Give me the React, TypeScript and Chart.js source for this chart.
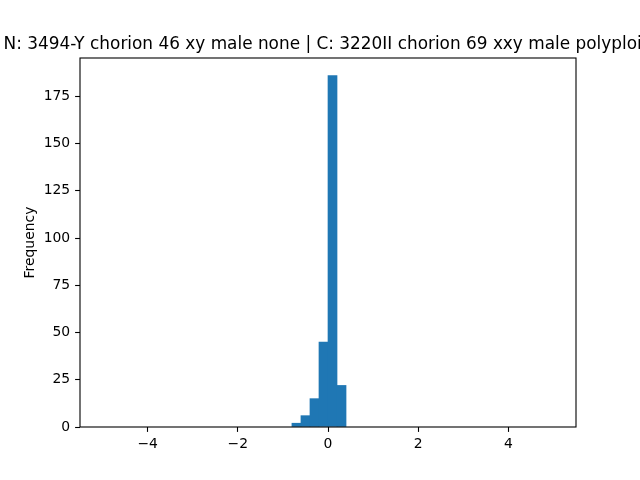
import React, { useEffect, useRef } from "react";
import { Chart, registerables } from "chart.js";

Chart.register(...registerables);

const TITLE = "N: 3494-Y chorion 46 xy male none | C: 3220II chorion 69 xxy male polyploid";
const Y_LABEL = "Frequency";
const BIN_CENTERS = [-0.7, -0.5, -0.3, -0.1, 0.1, 0.3];
const COUNTS = [2, 6, 15, 45, 186, 22];
const X_TICKS = [-4, -2, 0, 2, 4];
const Y_TICKS = [0, 25, 50, 75, 100, 125, 150, 175];
const X_MIN = -5.5;
const X_MAX = 5.5;
const Y_MAX = 195.3;

const FONT = "'DejaVu Sans', sans-serif";

const decorPlugin = {
  id: "decor",
  afterDraw(chart: any) {
    const { ctx, chartArea } = chart;
    const { left, right, top, bottom } = chartArea;
    ctx.save();
    ctx.strokeStyle = "#000";
    ctx.lineWidth = 1.1;
    ctx.strokeRect(left, top, right - left, bottom - top);
    ctx.fillStyle = "#000";
    ctx.font = `16.9px ${FONT}`;
    ctx.textAlign = "center";
    ctx.textBaseline = "alphabetic";
    ctx.fillText(TITLE, (left + right) / 2, top - 8.8);
    ctx.translate(34, (top + bottom) / 2);
    ctx.rotate(-Math.PI / 2);
    ctx.font = `13.9px ${FONT}`;
    ctx.fillText(Y_LABEL, 0, 0);
    ctx.restore();
  },
};

const fmt = (v: number) => (v < 0 ? "\u2212" + Math.abs(v) : String(v));

export default function App() {
  const ref = useRef<HTMLCanvasElement>(null);
  useEffect(() => {
    if (!ref.current) return;
    const chart = new Chart(ref.current, {
      type: "bar",
      data: {
        datasets: [
          {
            data: BIN_CENTERS.map((x, i) => ({ x, y: COUNTS[i] })),
            backgroundColor: "#1f77b4",
            borderWidth: 0,
            barPercentage: 1,
            categoryPercentage: 1,
          },
        ],
      },
      options: {
        animation: false,
        responsive: false,
        devicePixelRatio: 1,
        layout: { padding: { top: 58, right: 64, left: 0, bottom: 0 } },
        plugins: { legend: { display: false }, tooltip: { enabled: false }, title: { display: false } },
        scales: {
          x: {
            type: "linear",
            min: X_MIN,
            max: X_MAX,
            offset: false,
            afterFit: (s: any) => {
              s.height = 53;
            },
            afterBuildTicks: (s: any) => {
              s.ticks = X_TICKS.map((v) => ({ value: v }));
            },
            grid: {
              offset: false,
              drawOnChartArea: false,
              drawTicks: true,
              tickLength: 4.9,
              tickColor: "#000",
              tickWidth: 1.1,
            },
            border: { display: false },
            ticks: {
              color: "#000",
              font: { family: FONT, size: 13.9 },
              padding: 4,
              maxRotation: 0,
              autoSkip: false,
              callback: (v: any) => fmt(Number(v)),
            },
          },
          y: {
            type: "linear",
            min: 0,
            max: Y_MAX,
            afterFit: (s: any) => {
              s.width = 80;
            },
            afterBuildTicks: (s: any) => {
              s.ticks = Y_TICKS.map((v) => ({ value: v }));
            },
            grid: {
              drawOnChartArea: false,
              drawTicks: true,
              tickLength: 4.9,
              tickColor: "#000",
              tickWidth: 1.1,
            },
            border: { display: false },
            ticks: {
              color: "#000",
              font: { family: FONT, size: 13.9 },
              padding: 4.9,
              autoSkip: false,
              callback: (v: any) => fmt(Number(v)),
            },
          },
        },
      },
      plugins: [decorPlugin],
    });
    return () => chart.destroy();
  }, []);
  return (
    <div style={{ position: "absolute", left: 0, top: 0, width: 640, height: 480, background: "#fff" }}>
      <canvas ref={ref} width={640} height={480} style={{ display: "block" }} />
    </div>
  );
}
